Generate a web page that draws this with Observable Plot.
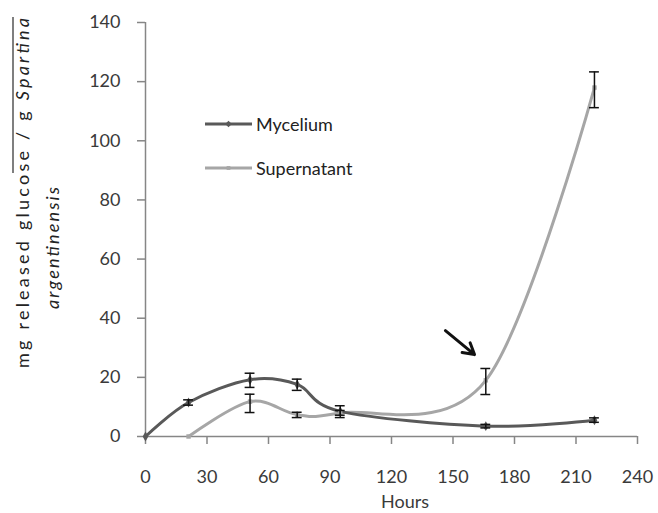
<!DOCTYPE html>
<html>
<head>
<meta charset="utf-8">
<script src="https://cdn.jsdelivr.net/npm/d3@7"></script>
<script src="https://cdn.jsdelivr.net/npm/@observablehq/plot@0.6"></script>
<style>
  html, body { margin: 0; padding: 0; background: #fff; }
  #chart { width: 658px; height: 513px; }
</style>
</head>
<body>
<div id="chart"></div>
<script>
// ---- data ----
const seriesNames = ["Mycelium", "Supernatant"];
const seriesColors = ["#595959", "#a6a6a6"];
const seriesSymbols = ["diamond", "square"];

const myceliumHours = [0, 21, 51, 74, 95, 166, 219];
const myceliumValues = [0, 11.5, 19.2, 17.6, 8.5, 3.5, 5.5];
const myceliumErrLow = [null, 10.6, 16.6, 15.6, 6.4, 2.9, 4.8];
const myceliumErrHigh = [null, 12.4, 21.4, 19.4, 10.4, 4.1, 6.3];

const supernatantHours = [21, 51, 74, 95, 166, 219];
const supernatantValues = [0, 11.8, 7.4, 8.0, 19, 118];
const supernatantErrLow = [null, 8.1, 6.4, 7.2, 14.2, 111.2];
const supernatantErrHigh = [null, 14.3, 8.2, 8.8, 23.0, 123.3];

const xTicks = [0, 30, 60, 90, 120, 150, 180, 210, 240];
const yTicks = [0, 20, 40, 60, 80, 100, 120, 140];

const arrowX1 = [146.3], arrowY1 = [35.8], arrowX2 = [160.5], arrowY2 = [27.7];

// ---- build tables ----
const rows = [];
myceliumHours.forEach((h, i) => rows.push({series: seriesNames[0], x: h, y: myceliumValues[i], lo: myceliumErrLow[i], hi: myceliumErrHigh[i]}));
supernatantHours.forEach((h, i) => rows.push({series: seriesNames[1], x: h, y: supernatantValues[i], lo: supernatantErrLow[i], hi: supernatantErrHigh[i]}));
const errRows = rows.filter(d => d.lo != null);
const arrows = arrowX1.map((v, i) => ({x1: v, y1: arrowY1[i], x2: arrowX2[i], y2: arrowY2[i]}));
const capHalf = 2.4;

const font = "Lato, 'Open Sans', sans-serif";
const axisColor = "#868686";

const plot = Plot.plot({
  width: 658,
  height: 513,
  marginLeft: 145,
  marginRight: 21,
  marginTop: 22,
  marginBottom: 77,
  style: {fontFamily: font, fontSize: "18px", color: "#3a3a3a", background: "white"},
  x: {domain: [0, 240]},
  y: {domain: [0, 140]},
  color: {domain: seriesNames, range: seriesColors},
  marks: [
    Plot.axisX({ticks: xTicks, tickSize: 8, tickPadding: 26, label: null, stroke: axisColor, strokeWidth: 1.5}),
    Plot.axisY({ticks: yTicks, tickSize: 8, tickPadding: 17, label: null, stroke: axisColor, strokeWidth: 1.5}),
    Plot.ruleX([0], {stroke: axisColor, strokeWidth: 1.5}),
    Plot.ruleY([0], {stroke: axisColor, strokeWidth: 1.5}),
    Plot.line(rows.filter(d => d.series === seriesNames[1]), {x: "x", y: "y", stroke: seriesColors[1], strokeWidth: 3, curve: "cardinal"}),
    Plot.line(rows.filter(d => d.series === seriesNames[0]), {x: "x", y: "y", stroke: seriesColors[0], strokeWidth: 3, curve: "cardinal"}),
    Plot.dot(rows.filter(d => d.series === seriesNames[0]), {x: "x", y: "y", symbol: seriesSymbols[0], r: 3, fill: seriesColors[0]}),
    Plot.dot(rows.filter(d => d.series === seriesNames[1]), {x: "x", y: "y", symbol: seriesSymbols[1], r: 2.5, fill: seriesColors[1]}),
    Plot.ruleX(errRows, {x: "x", y1: "lo", y2: "hi", stroke: "#111", strokeWidth: 1.5}),
    Plot.ruleY(errRows, {y: "lo", x1: d => d.x - capHalf, x2: d => d.x + capHalf, stroke: "#111", strokeWidth: 1.5}),
    Plot.ruleY(errRows, {y: "hi", x1: d => d.x - capHalf, x2: d => d.x + capHalf, stroke: "#111", strokeWidth: 1.5}),
    Plot.arrow(arrows, {x1: "x1", y1: "y1", x2: "x2", y2: "y2", stroke: "#111", strokeWidth: 3, headLength: 16})
  ]
});

document.getElementById("chart").appendChild(plot);

// ---- annotations: axis titles and legend ----
const svg = d3.select(plot);
svg.append("text")
  .attr("x", 405).attr("y", 508)
  .attr("text-anchor", "middle")
  .attr("font-family", font).attr("font-size", 18).attr("fill", "#3a3a3a")
  .text("Hours");

const yl = svg.append("g").attr("font-family", font).attr("font-size", 18).attr("fill", "#222");
const t1 = yl.append("text")
  .attr("transform", "translate(29,193) rotate(-90)")
  .attr("text-anchor", "middle")
  .attr("textLength", 350).attr("lengthAdjust", "spacing");
t1.append("tspan").text("mg released glucose / g ");
t1.append("tspan").attr("font-style", "italic").text("Spartina");
yl.append("text")
  .attr("transform", "translate(59,248) rotate(-90)")
  .attr("text-anchor", "middle")
  .attr("font-style", "italic")
  .attr("textLength", 122).attr("lengthAdjust", "spacing")
  .text("argentinensis");
yl.append("line").attr("x1", 13).attr("x2", 13).attr("y1", 17).attr("y2", 173)
  .attr("stroke", "#555").attr("stroke-width", 1.5);

const legendY = [124, 168];
seriesNames.forEach((name, i) => {
  const g = svg.append("g");
  g.append("line").attr("x1", 205).attr("x2", 252).attr("y1", legendY[i]).attr("y2", legendY[i])
    .attr("stroke", seriesColors[i]).attr("stroke-width", 3);
  g.append("path")
    .attr("transform", `translate(228.5,${legendY[i]})`)
    .attr("d", d3.symbol(i === 0 ? d3.symbolDiamond2 : d3.symbolSquare2, i === 0 ? 28 : 18)())
    .attr("fill", seriesColors[i]);
  g.append("text").attr("x", 256).attr("y", legendY[i] + 7)
    .attr("text-anchor", "start")
    .attr("font-family", font).attr("font-size", 18).attr("fill", "#222").text(name);
});
</script>
</body>
</html>
